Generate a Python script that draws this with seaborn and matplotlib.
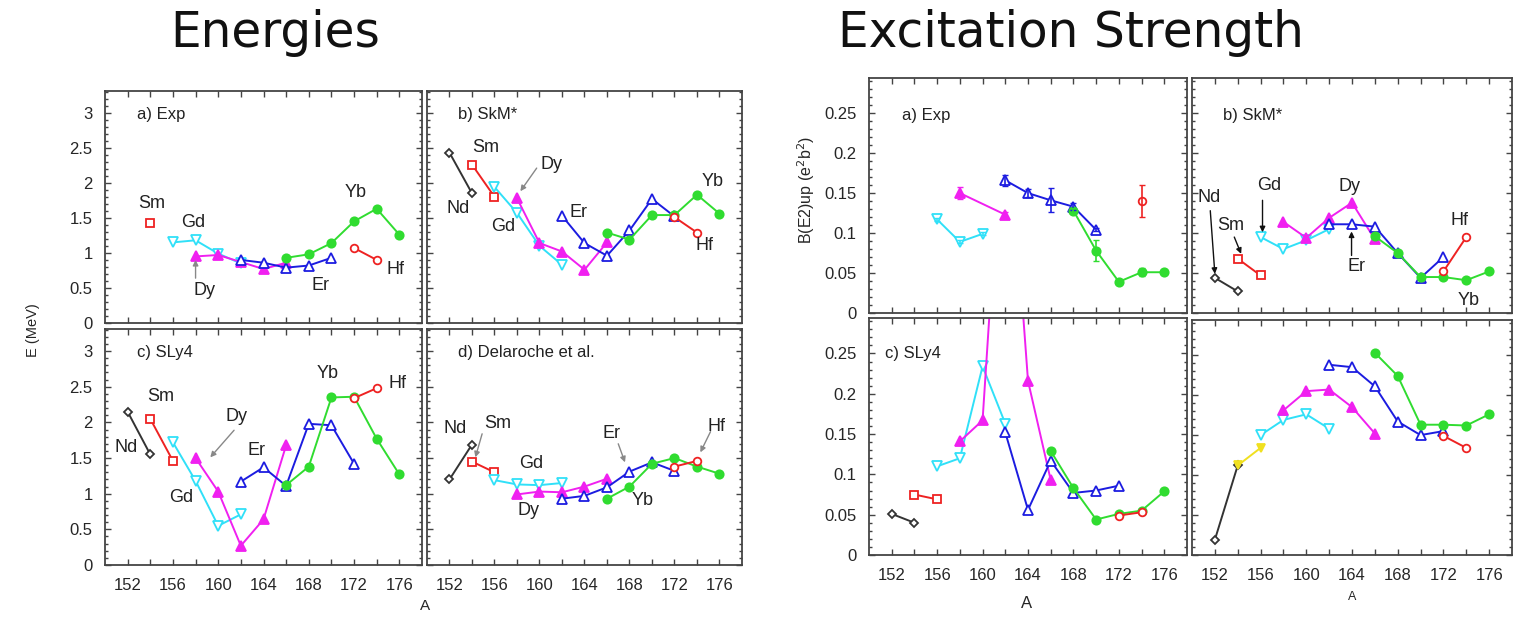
import matplotlib
matplotlib.use("Agg")
import matplotlib.pyplot as plt
from matplotlib.ticker import MultipleLocator, FixedLocator, FuncFormatter
import seaborn as sns

sns.set_style("ticks")
plt.rcParams["font.family"] = ["Liberation Sans", "DejaVu Sans"]

W, H = 1515, 624

# excitation energies (MeV), A -> E per nucleus
e_exp = {
    "Sm": ([154], [1.43]),
    "Gd": ([156, 158, 160, 162], [1.15, 1.18, 0.99, 0.85]),
    "Dy": ([158, 160, 162, 164, 166], [0.95, 0.97, 0.87, 0.77, 0.86]),
    "Er": ([162, 164, 166, 168, 170], [0.90, 0.86, 0.79, 0.82, 0.93]),
    "Yb": ([166, 168, 170, 172, 174, 176], [0.93, 0.98, 1.14, 1.45, 1.63, 1.26]),
    "Hf": ([172, 174], [1.07, 0.90]),
}
e_skm = {
    "Nd": ([152, 154], [2.43, 1.85]),
    "Sm": ([154, 156], [2.26, 1.80]),
    "Gd": ([156, 158, 160, 162], [1.94, 1.57, 1.10, 0.83]),
    "Dy": ([158, 160, 162, 164, 166], [1.78, 1.14, 1.02, 0.76, 1.15]),
    "Er": ([162, 164, 166, 168, 170, 172], [1.53, 1.14, 0.96, 1.32, 1.77, 1.52]),
    "Yb": ([166, 168, 170, 172, 174, 176], [1.29, 1.19, 1.54, 1.54, 1.83, 1.56]),
    "Hf": ([172, 174], [1.51, 1.29]),
}
e_sly4 = {
    "Nd": ([152, 154], [2.15, 1.55]),
    "Sm": ([154, 156], [2.05, 1.46]),
    "Gd": ([156, 158, 160, 162], [1.72, 1.18, 0.55, 0.71]),
    "Dy": ([158, 160, 162, 164, 166], [1.50, 1.03, 0.27, 0.64, 1.68]),
    "Er": ([162, 164, 166, 168, 170, 172], [1.17, 1.37, 1.11, 1.98, 1.96, 1.42]),
    "Yb": ([166, 168, 170, 172, 174, 176], [1.12, 1.38, 2.35, 2.36, 1.77, 1.27]),
    "Hf": ([172, 174], [2.34, 2.48]),
}
e_delaroche = {
    "Nd": ([152, 154], [1.20, 1.69]),
    "Sm": ([154, 156], [1.45, 1.30]),
    "Gd": ([156, 158, 160, 162], [1.19, 1.13, 1.12, 1.15]),
    "Dy": ([158, 160, 162, 164, 166], [0.99, 1.03, 1.02, 1.10, 1.21]),
    "Er": ([162, 164, 166, 168, 170, 172], [0.93, 0.97, 1.09, 1.31, 1.44, 1.32]),
    "Yb": ([166, 168, 170, 172, 174, 176], [0.93, 1.10, 1.42, 1.50, 1.38, 1.28]),
    "Hf": ([172, 174], [1.38, 1.46]),
}

# B(E2)up (e^2 b^2)
b_exp = {
    "Gd": ([156, 158, 160], [0.117, 0.089, 0.099]),
    "Dy": ([158, 162], [0.150, 0.123]),
    "Er": ([162, 164, 166, 168, 170], [0.166, 0.150, 0.141, 0.133, 0.104]),
    "Yb": ([168, 170, 172, 174, 176], [0.128, 0.078, 0.039, 0.051, 0.051]),
    "Hf": ([174], [0.140]),
}
b_exp_err = {
    "Gd": [0.002, 0.002, 0.002],
    "Dy": [0.008, 0.003],
    "Er": [0.007, 0.005, 0.015, 0.004, 0.002],
    "Yb": [0.003, 0.013, 0.002, 0.005, 0.002],
    "Hf": [0.020],
}
b_skm = {
    "Nd": ([152, 154], [0.044, 0.027]),
    "Sm": ([154, 156], [0.068, 0.047]),
    "Gd": ([156, 158, 160, 162], [0.095, 0.080, 0.091, 0.105]),
    "Dy": ([158, 160, 162, 164, 166], [0.114, 0.094, 0.119, 0.138, 0.092]),
    "Er": ([162, 164, 166, 168, 170, 172], [0.111, 0.111, 0.108, 0.075, 0.044, 0.070]),
    "Yb": ([166, 168, 170, 172, 174, 176], [0.096, 0.075, 0.045, 0.045, 0.041, 0.052]),
    "Hf": ([172, 174], [0.052, 0.095]),
}
b_sly4 = {
    "Nd": ([152, 154], [0.051, 0.040]),
    "Sm": ([154, 156], [0.075, 0.069]),
    "Gd": ([156, 158, 160, 162], [0.110, 0.120, 0.234, 0.163]),
    "Dy": ([158, 160, 162, 164, 166], [0.141, 0.167, 0.600, 0.216, 0.093]),
    "Er": ([162, 164, 166, 168, 170, 172], [0.152, 0.056, 0.117, 0.077, 0.080, 0.086]),
    "Yb": ([166, 168, 170, 172, 174, 176], [0.129, 0.083, 0.044, 0.051, 0.055, 0.079]),
    "Hf": ([172, 174], [0.049, 0.053]),
}
b_delaroche = {
    "Nd": ([152, 154], [0.019, 0.112]),
    "Sm2": ([154, 156], [0.112, 0.134]),
    "Gd": ([156, 158, 160, 162], [0.150, 0.169, 0.176, 0.158]),
    "Dy": ([158, 160, 162, 164, 166], [0.181, 0.205, 0.207, 0.185, 0.152]),
    "Er": ([162, 164, 166, 168, 170, 172], [0.238, 0.235, 0.211, 0.167, 0.150, 0.155]),
    "Yb": ([166, 168, 170, 172, 174, 176], [0.253, 0.224, 0.163, 0.163, 0.162, 0.176]),
    "Hf": ([172, 174], [0.149, 0.134]),
}

STYLE = {
    "Nd": dict(color="#333333", marker="D", ms=4.0, mfc="white"),
    "Sm": dict(color="#ee2222", marker="s", ms=5.5, mfc="white"),
    "Sm2": dict(color="#f0e020", marker="v", ms=6.0, mfc=None),
    "Gd": dict(color="#30e0f8", marker="v", ms=6.5, mfc="white"),
    "Dy": dict(color="#f020f0", marker="^", ms=6.5, mfc=None),
    "Er": dict(color="#1c1ce0", marker="^", ms=6.5, mfc="white"),
    "Yb": dict(color="#30dc30", marker="o", ms=6.0, mfc=None),
    "Hf": dict(color="#ee2222", marker="o", ms=5.5, mfc="white"),
}

# nucleus name labels: (text, A, value)
lab_e_exp = [("Sm", 154.1, 1.70), ("Gd", 157.75, 1.43), ("Dy", 158.8, 0.47),
             ("Er", 169.0, 0.53), ("Yb", 172.1, 1.86), ("Hf", 175.7, 0.76)]
lab_e_skm = [("Sm", 155.2, 2.50), ("Nd", 152.8, 1.64), ("Gd", 156.8, 1.38),
             ("Dy", 161.1, 2.26), ("Er", 163.5, 1.57), ("Yb", 175.4, 2.02),
             ("Hf", 174.7, 1.11)]
lab_e_sly4 = [("Sm", 154.9, 2.36), ("Nd", 151.9, 1.65), ("Dy", 161.6, 2.08),
              ("Er", 163.4, 1.60), ("Gd", 156.7, 0.94), ("Yb", 169.7, 2.69),
              ("Hf", 175.8, 2.55)]
lab_e_del = [("Nd", 152.5, 1.91), ("Sm", 156.3, 1.98), ("Gd", 159.3, 1.42),
             ("Dy", 159.0, 0.76), ("Er", 166.4, 1.84), ("Yb", 169.2, 0.90),
             ("Hf", 175.75, 1.94)]
lab_b_skm = [("Gd", 156.76, 0.160), ("Nd", 151.47, 0.145), ("Sm", 153.4, 0.110),
             ("Dy", 163.8, 0.158), ("Er", 164.4, 0.058), ("Hf", 173.4, 0.116),
             ("Yb", 174.2, 0.016)]

# arrows: (tail A, tail val, head A, head val)
arr_e_exp = [(158.0, 0.64, 158.0, 0.90)]
arr_e_skm = [(159.75, 2.21, 158.3, 1.88)]
arr_e_sly4 = [(161.4, 1.89, 159.3, 1.51)]
arr_e_del = [(154.9, 1.84, 154.3, 1.51), (167.0, 1.70, 167.6, 1.44),
             (175.2, 1.87, 174.3, 1.58)]
arr_b_skm = [(156.17, 0.141, 156.17, 0.101), (151.6, 0.128, 152.0, 0.049),
             (153.7, 0.095, 154.3, 0.074), (163.96, 0.072, 163.96, 0.102)]


def px_axes(fig, x0, y0, x1, y1):
    return fig.add_axes([x0 / W, 1 - y1 / H, (x1 - x0) / W, (y1 - y0) / H])


def draw(ax, series):
    for name, (a, v) in series.items():
        st = STYLE[name]
        sns.lineplot(x=a, y=v, ax=ax, color=st["color"], marker=st["marker"],
                     markersize=st["ms"], markeredgecolor=st["color"],
                     markerfacecolor=st["mfc"] or st["color"], markeredgewidth=1.3,
                     linewidth=1.4, errorbar=None, legend=False)


def frame(ax, ylim, ymaj, ymin, xlab, ylab):
    ax.set_xlim(150, 178)
    ax.set_ylim(*ylim)
    ax.xaxis.set_major_locator(FixedLocator(range(152, 177, 4)))
    ax.xaxis.set_minor_locator(FixedLocator(range(154, 176, 4)))
    ax.yaxis.set_major_locator(MultipleLocator(ymaj))
    ax.yaxis.set_minor_locator(MultipleLocator(ymin))
    ax.yaxis.set_major_formatter(FuncFormatter(lambda v, p: f"{v:g}"))
    ax.tick_params(which="both", direction="in", top=True, right=True,
                   color="#444444", width=1.0, labelsize=12, pad=9)
    ax.tick_params(which="major", length=4)
    ax.tick_params(axis="x", which="minor", length=4)
    ax.tick_params(axis="y", which="minor", length=2)
    ax.tick_params(labelbottom=xlab, labelleft=ylab)
    for s in ax.spines.values():
        s.set_linewidth(1.3)
        s.set_color("#444444")
    ax.set_xlabel("")
    ax.set_ylabel("")


def names(ax, labels, arrows, acolor):
    for t, a, v in labels:
        ax.text(a, v, t, fontsize=13, ha="center", va="center", color="#222222")
    for a0, v0, a1, v1 in arrows:
        ax.annotate("", xy=(a1, v1), xytext=(a0, v0),
                    arrowprops=dict(arrowstyle="-|>", color=acolor, lw=1.0,
                                    mutation_scale=8, shrinkA=0, shrinkB=0))


fig = plt.figure(figsize=(W / 100, H / 100), dpi=100)

# energies
E_LIM = (0, 3.31)
panels_e = [
    ((105, 91, 422, 323), e_exp, "a) Exp", lab_e_exp, arr_e_exp, False, True),
    ((427, 91, 742, 323), e_skm, "b) SkM*", lab_e_skm, arr_e_skm, False, False),
    ((105, 329, 422, 565), e_sly4, "c) SLy4", lab_e_sly4, arr_e_sly4, True, True),
    ((427, 329, 742, 565), e_delaroche, "d) Delaroche et al.", lab_e_del, arr_e_del, True, False),
]
for box, data, title, labs, arrs, xl, yl in panels_e:
    ax = px_axes(fig, *box)
    draw(ax, data)
    frame(ax, E_LIM, 0.5, 0.1, xl, yl)
    names(ax, labs, arrs, "#888888")
    ax.text(0.10, 0.90, title, transform=ax.transAxes, fontsize=12,
            ha="left", va="center", color="#222222")

# B(E2)
B_LIM = (0, 0.294)
panels_b = [
    ((869, 78, 1187, 313), b_exp, "a) Exp", 0.103, 0.84, False, True),
    ((1192, 78, 1512, 313), b_skm, "b) SkM*", 0.097, 0.84, False, False),
    ((869, 318, 1187, 555), b_sly4, "c) SLy4", 0.05, 0.85, True, True),
    ((1192, 320, 1512, 555), b_delaroche, "", 0.1, 0.85, True, False),
]
axes_b = []
for box, data, title, tx, ty, xl, yl in panels_b:
    ax = px_axes(fig, *box)
    draw(ax, data)
    frame(ax, B_LIM, 0.05, 0.01, xl, yl)
    if title:
        ax.text(tx, ty, title, transform=ax.transAxes, fontsize=12,
                ha="left", va="center", color="#222222")
    axes_b.append(ax)

for name, (a, v) in b_exp.items():
    axes_b[0].errorbar(a, v, yerr=b_exp_err[name], fmt="none",
                       ecolor=STYLE[name]["color"], elinewidth=1.2, capsize=2.5)
names(axes_b[1], lab_b_skm, arr_b_skm, "#111111")

# titles and axis labels
fig.text(275 / W, 1 - 33 / H, "Energies", fontsize=35, family="DejaVu Sans",
         ha="center", va="center", color="#111111")
fig.text(1071 / W, 1 - 33 / H, "Excitation Strength", fontsize=35,
         family="DejaVu Sans", ha="center", va="center", color="#111111")
fig.text(33 / W, 1 - 330 / H, "E (MeV)", fontsize=10.5, rotation=90,
         ha="center", va="center")
fig.text(806 / W, 1 - 190 / H, "B(E2)up (e$^2$b$^2$)", fontsize=11.5, rotation=90,
         ha="center", va="center")
fig.text(425 / W, 1 - 606 / H, "A", fontsize=11, ha="center", va="center")
fig.text(1027 / W, 1 - 604 / H, "A", fontsize=12, ha="center", va="center")
fig.text(1352 / W, 1 - 597 / H, "A", fontsize=9, ha="center", va="center")

fig.savefig("out.png", dpi=100)
